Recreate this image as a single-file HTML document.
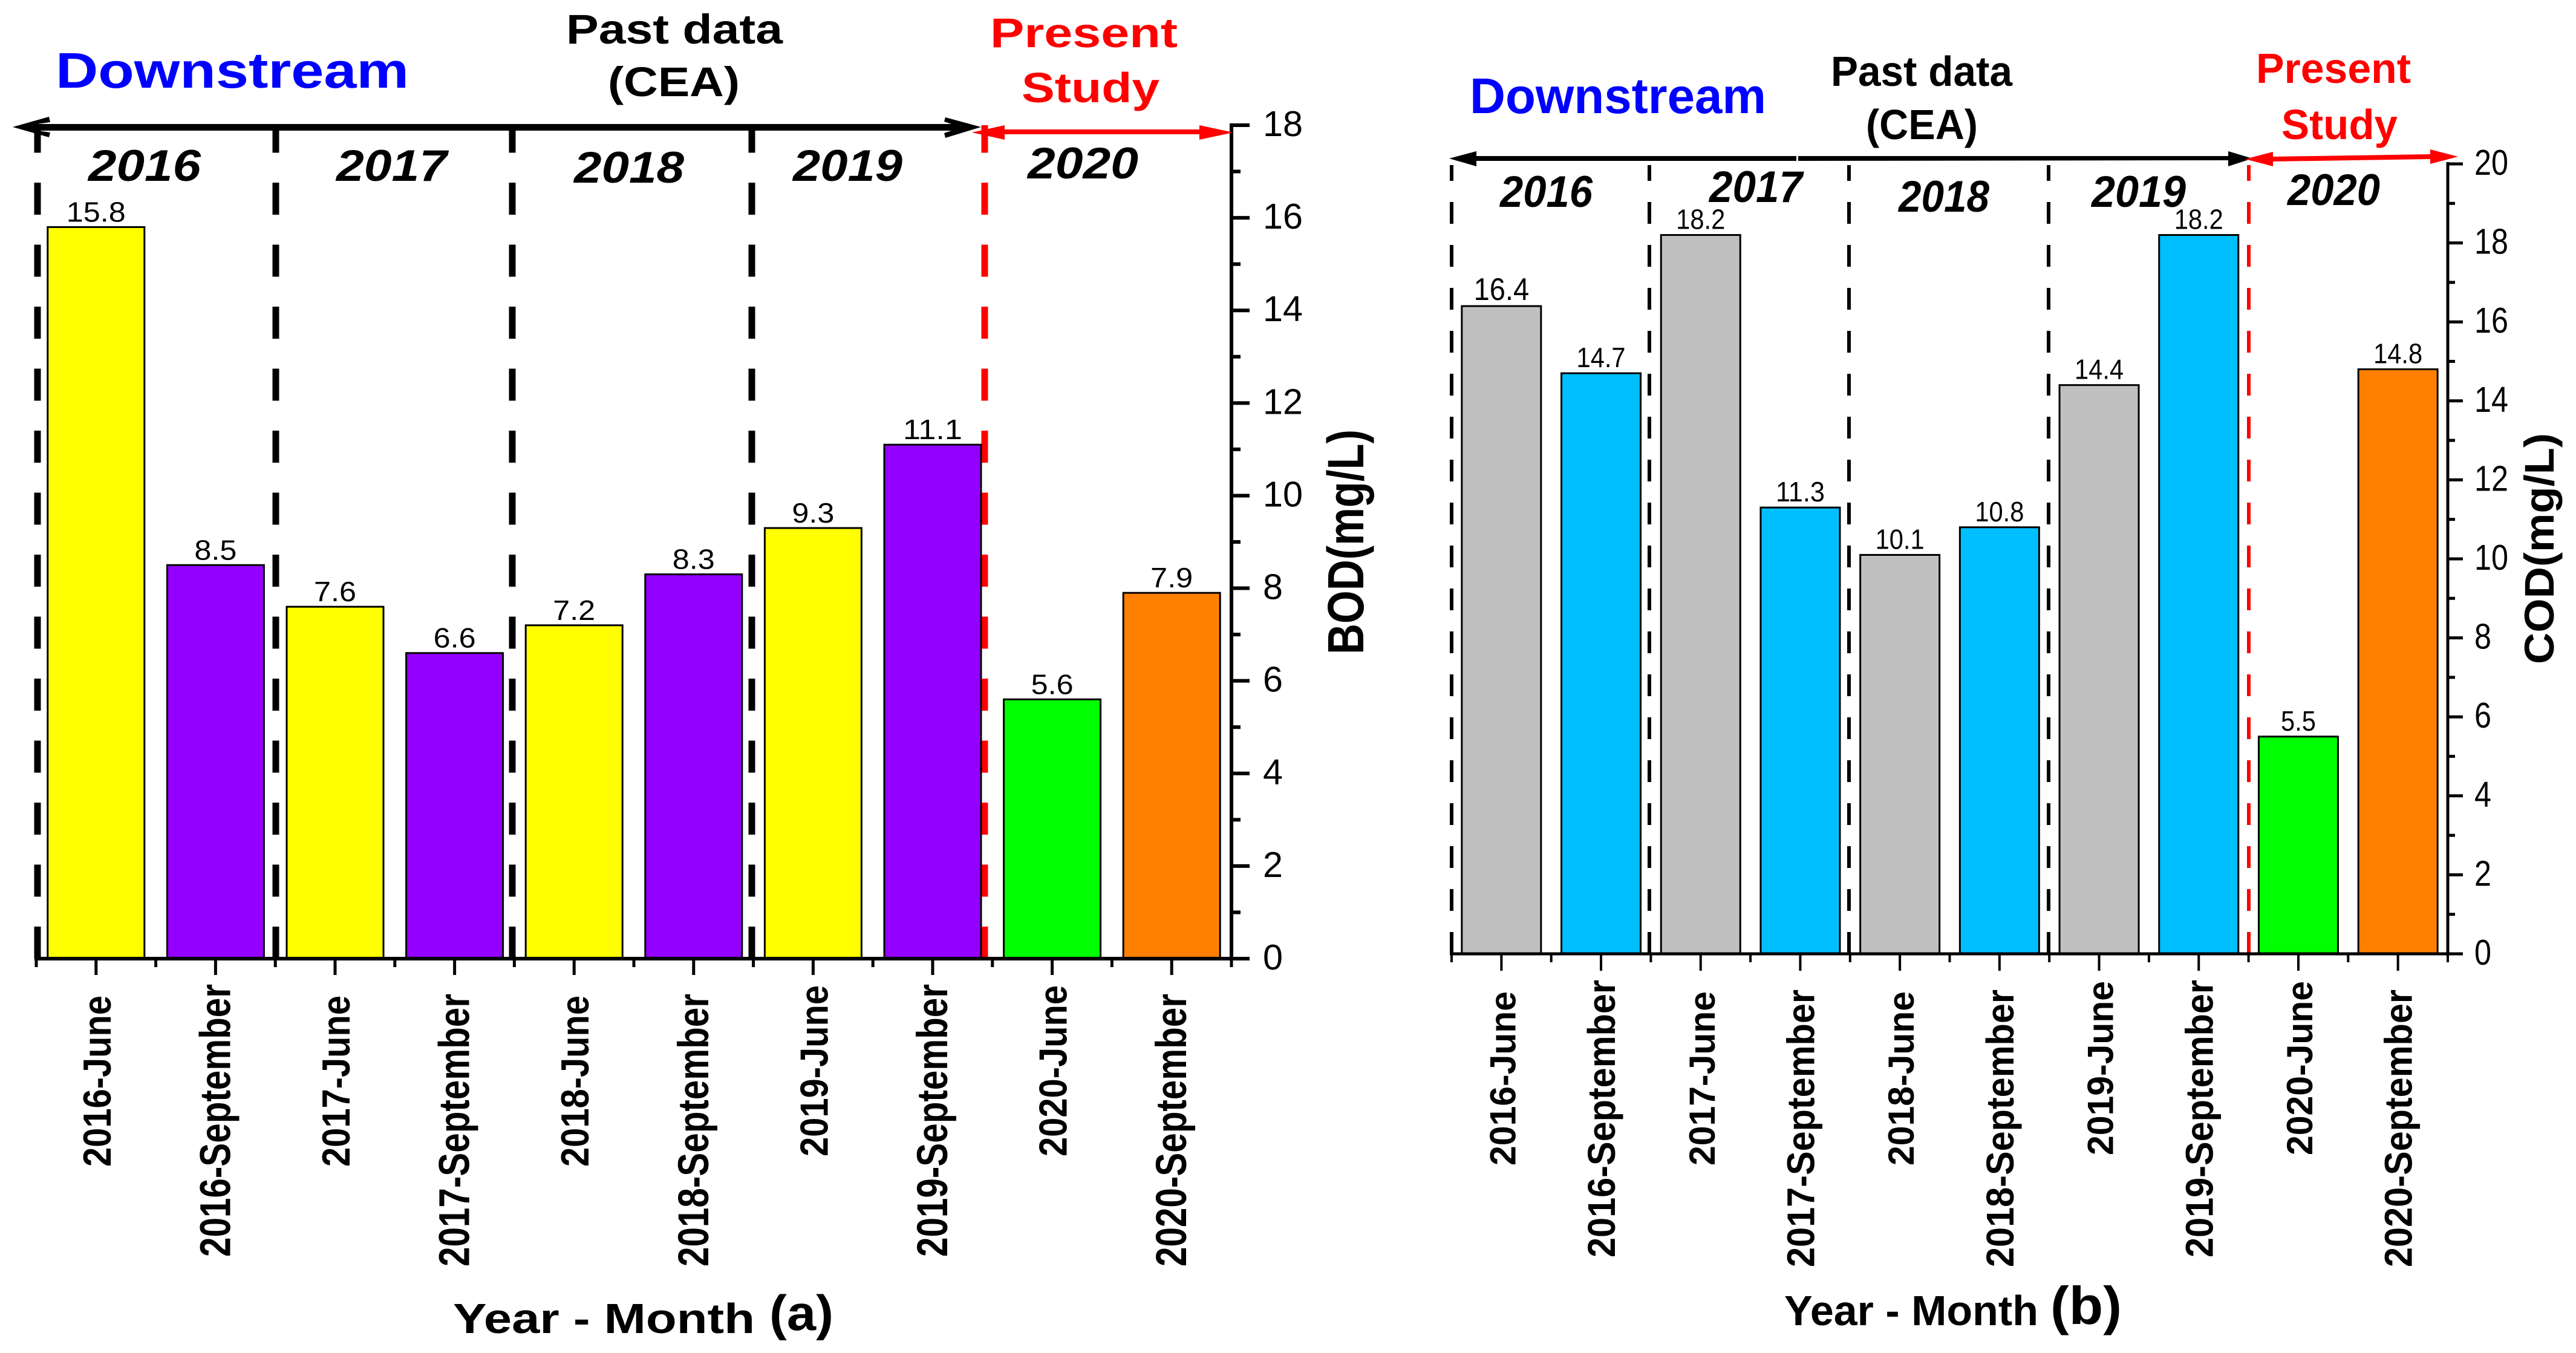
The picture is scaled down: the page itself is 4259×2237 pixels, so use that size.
<!DOCTYPE html>
<html lang="en">
<head>
<meta charset="utf-8">
<title>BOD and COD downstream bar charts</title>
<style>
html,body{margin:0;padding:0;background:#fff;}
svg{display:block;font-family:"Liberation Sans",sans-serif;}
.b{font-weight:700;}
.bi{font-weight:700;font-style:italic;}
</style>
</head>
<body>
<svg id="figure" xmlns="http://www.w3.org/2000/svg" width="4259" height="2237" viewBox="0 0 4259 2237">
  <rect x="0" y="0" width="4259" height="2237" fill="#fff"/>
  <g id="panelA"></g>
  <g id="panelB"></g>

  <g>
    <text class="b" x="92" y="145" font-size="83" fill="#0000ff" textLength="584" lengthAdjust="spacingAndGlyphs">Downstream</text>
    <text class="b" x="936" y="72" font-size="69" textLength="358" lengthAdjust="spacingAndGlyphs">Past data</text>
    <text class="b" x="1005" y="159" font-size="69" textLength="218" lengthAdjust="spacingAndGlyphs">(CEA)</text>
    <text class="b" x="1637" y="78" font-size="69" fill="#ff0000" textLength="310" lengthAdjust="spacingAndGlyphs">Present</text>
    <text class="b" x="1689" y="169" font-size="70" fill="#ff0000" textLength="228" lengthAdjust="spacingAndGlyphs">Study</text>
    <text class="bi" x="146" y="299" font-size="73" textLength="186" lengthAdjust="spacingAndGlyphs">2016</text>
    <text class="bi" x="556" y="299" font-size="73" textLength="183" lengthAdjust="spacingAndGlyphs">2017</text>
    <text class="bi" x="949" y="302" font-size="73" textLength="182" lengthAdjust="spacingAndGlyphs">2018</text>
    <text class="bi" x="1311" y="299" font-size="73" textLength="181" lengthAdjust="spacingAndGlyphs">2019</text>
    <text class="bi" x="1699" y="295" font-size="73" textLength="183" lengthAdjust="spacingAndGlyphs">2020</text>
    <polygon fill="#000" points="21,210 81,193 83,202 62,205 1573,205 1561,201 1563,194 1622,210 1563,228 1561,220 1573,216 62,216 83,219 81,227"/>
    <polygon fill="#ff0000" points="1607,219 1661,207 1661,214 1983,214 1983,207 2039,219 1983,231 1983,222 1661,222 1661,231"/>
    <text class="b" x="749" y="2204" font-size="70" textLength="499" lengthAdjust="spacingAndGlyphs">Year - Month</text>
    <text class="b" x="1272" y="2199" font-size="82" textLength="106" lengthAdjust="spacingAndGlyphs">(a)</text>
    <text class="b" transform="translate(2254,1082) rotate(-90)" font-size="84" textLength="372" lengthAdjust="spacingAndGlyphs">BOD(mg/L)</text>
  </g>

  <g>
    <text class="b" x="2430" y="187" font-size="83" fill="#0000ff" textLength="490" lengthAdjust="spacingAndGlyphs">Downstream</text>
    <text class="b" x="3027" y="142" font-size="70" textLength="300" lengthAdjust="spacingAndGlyphs">Past data</text>
    <text class="b" x="3085" y="230" font-size="70" textLength="185" lengthAdjust="spacingAndGlyphs">(CEA)</text>
    <text class="b" x="3730" y="137" font-size="70" fill="#ff0000" textLength="256" lengthAdjust="spacingAndGlyphs">Present</text>
    <text class="b" x="3772" y="230" font-size="70" fill="#ff0000" textLength="192" lengthAdjust="spacingAndGlyphs">Study</text>
    <text class="bi" x="2480" y="342" font-size="73" textLength="153" lengthAdjust="spacingAndGlyphs">2016</text>
    <text class="bi" x="2826" y="334" font-size="73" textLength="154" lengthAdjust="spacingAndGlyphs">2017</text>
    <text class="bi" x="3139" y="350" font-size="73" textLength="150" lengthAdjust="spacingAndGlyphs">2018</text>
    <text class="bi" x="3458" y="342" font-size="73" textLength="156" lengthAdjust="spacingAndGlyphs">2019</text>
    <text class="bi" x="3782" y="339" font-size="73" textLength="153" lengthAdjust="spacingAndGlyphs">2020</text>
    <polygon fill="#000" points="2396,262 2441,250 2441,258 2970,258 2970,266 2441,266 2441,275"/>
    <polygon fill="#000" points="2973,258 3684,258 3684,250 3724,262 3684,275 3684,265 2973,266"/>
    <polygon fill="#ff0000" points="3712,263 3758,251 3758,259 4018,255 4018,247 4064,259 4018,271 4018,263 3758,267 3758,275"/>
    <text class="b" x="2950" y="2191" font-size="70" textLength="420" lengthAdjust="spacingAndGlyphs">Year - Month</text>
    <text class="b" x="3390" y="2189" font-size="88" textLength="118" lengthAdjust="spacingAndGlyphs">(b)</text>
    <text class="b" transform="translate(4222,1098) rotate(-90)" font-size="69" textLength="382" lengthAdjust="spacingAndGlyphs">COD(mg/L)</text>
  </g>
</svg>
<script>
/* chart data */
const categories = ["2016-June","2016-September","2017-June","2017-September","2018-June","2018-September","2019-June","2019-September","2020-June","2020-September"];
const bodValues = [15.8,8.5,7.6,6.6,7.2,8.3,9.3,11.1,5.6,7.9];
const codValues = [16.4,14.7,18.2,11.3,10.1,10.8,14.4,18.2,5.5,14.8];
const bodPrinted = ["15.8","8.5","7.6","6.6","7.2","8.3","9.3","11.1","5.6","7.9"];
const codPrinted = ["16.4","14.7","18.2","11.3","10.1","10.8","14.4","18.2","5.5","14.8"];
const bodTicks = [0,2,4,6,8,10,12,14,16,18];
const codTicks = [0,2,4,6,8,10,12,14,16,18,20];
const bodColors = ["#ffff00","#9400ff","#ffff00","#9400ff","#ffff00","#9400ff","#ffff00","#9400ff","#00ff00","#ff8000"];
const codColors = ["#c0c0c0","#00bfff","#c0c0c0","#00bfff","#c0c0c0","#00bfff","#c0c0c0","#00bfff","#00ff00","#ff8000"];
/* hand-placed label layout, not data */
const bodLabelTops = [1646,1627,1646,1643,1646,1643,1629,1627,1629,1643];
const codLabelTops = [1639,1620,1639,1636,1639,1636,1622,1620,1622,1636];
const bodLabelFonts = [46,46,46,46,46,46,46,46,46,46];
const codLabelFonts = [52,46,46,46,46,46,46,46,46,46];

const SVG_NS = "http://www.w3.org/2000/svg";
function mk(tag, attrs, parent, txt) {
  const el = document.createElementNS(SVG_NS, tag);
  for (const k in attrs) el.setAttribute(k, attrs[k]);
  if (txt !== undefined) el.textContent = txt;
  parent.appendChild(el);
  return el;
}

function drawPanel(p) {
  const g = document.getElementById(p.id);
  const scaleY = v => p.y0 - (v / p.yMax) * (p.y0 - p.yTop);
  const pitch = (p.xR - p.xL) / p.cats.length;
  const scaleX = i => p.xL + pitch * (i + 0.5);

  p.dividers.forEach(function (dx, i) {
    const red = i === p.dividers.length - 1;
    const el = mk("line", {x1: dx, x2: dx, y1: p.y0, y2: p.dashTop,
      stroke: red ? "#ff0000" : "#000", "stroke-width": p.dashW,
      "stroke-dasharray": p.dash}, g);
    
    
  });

  p.vals.forEach(function (v, i) {
    const cx = scaleX(i);
    const top = scaleY(v);
    const bar = mk("rect", {x: cx - p.barW / 2, y: top, width: p.barW, height: p.y0 - top,
      fill: p.colors[i], stroke: "#000", "stroke-width": 3}, g);
    
    

    const s = p.printed[i];
    const fs = p.valueFonts[i];
    const w = (fs / 46) * p.valueWidth * ((s.length - 1) * 0.556 + 0.278) / 1.946;
    const lab = mk("text", {x: cx, y: top - p.valueGap, "font-size": fs, "text-anchor": "middle",
      textLength: w, lengthAdjust: "spacingAndGlyphs"}, g, s);
    
    
  });

  const yAxis = mk("line", {x1: p.xR, x2: p.xR, y1: p.yTop - 3, y2: p.y0 + 3, stroke: "#000", "stroke-width": p.axisW}, g);
  
  

  const xAxis = mk("line", {x1: p.xL - 3, x2: p.xR + p.yMajor, y1: p.y0, y2: p.y0, stroke: "#000", "stroke-width": p.axisW}, g);
  
  

  p.ticks.forEach(function (t, i) {
    const y = scaleY(t);
    const major = mk("line", {x1: p.xR, x2: p.xR + p.yMajor, y1: y, y2: y, stroke: "#000", "stroke-width": p.axisW}, g);
    
    

    const s = String(t);
    const lab = mk("text", {x: p.tickX, y: y + 18, "font-size": 59,
      textLength: s.length * p.digitW, lengthAdjust: "spacingAndGlyphs"}, g, s);
    
    

    if (i < p.ticks.length - 1) {
      const ym = scaleY((t + p.ticks[i + 1]) / 2);
      const minor = mk("line", {x1: p.xR, x2: p.xR + p.yMinor, y1: ym, y2: ym, stroke: "#000", "stroke-width": p.axisW}, g);
      
      
    }
  });

  p.cats.forEach(function (c, i) {
    const cx = scaleX(i);
    const major = mk("line", {x1: cx, x2: cx, y1: p.y0, y2: p.y0 + p.xMajor, stroke: "#000", "stroke-width": p.xTickW}, g);
    
    

    const ex = p.xL + pitch * i;
    const minor = mk("line", {x1: ex, x2: ex, y1: p.y0, y2: p.y0 + p.xMinor, stroke: "#000", "stroke-width": p.xTickW}, g);
    
    

    const longLabel = c.indexOf("September") > -1;
    const len = longLabel ? p.sepLen : p.juneLen;
    const bottom = p.labelTops[i] + len;
    const lab = mk("text", {transform: "translate(" + (cx + p.labelShift) + "," + bottom + ") rotate(-90)",
      class: "b", "font-size": longLabel ? p.sepFont : p.juneFont,
      textLength: len, lengthAdjust: "spacingAndGlyphs"}, g, c);
    
    
  });

  const last = mk("line", {x1: p.xR, x2: p.xR, y1: p.y0, y2: p.y0 + p.xMinor, stroke: "#000", "stroke-width": p.xTickW}, g);
  
  
}

drawPanel({
  id: "panelA", cats: categories, vals: bodValues, printed: bodPrinted, colors: bodColors, ticks: bodTicks,
  yMax: 18, xL: 60, xR: 2036, y0: 1585, yTop: 207, barW: 160, axisW: 6, yMajor: 30, yMinor: 15,
  xMajor: 27, xMinor: 14, xTickW: 5, tickX: 2088, digitW: 33, valueWidth: 98, valueFonts: bodLabelFonts, valueGap: 9,
  dividers: [62, 456, 847, 1243, 1628], dashTop: 207, dash: "53 49.5", dashW: 11,
  labelTops: bodLabelTops, juneLen: 283, sepLen: 451, juneFont: 65, sepFont: 71, labelShift: 24
});
drawPanel({
  id: "panelB", cats: categories, vals: codValues, printed: codPrinted, colors: codColors, ticks: codTicks,
  yMax: 20, xL: 2400, xR: 4047, y0: 1577, yTop: 271, barW: 131, axisW: 5, yMajor: 25, yMinor: 12,
  xMajor: 28, xMinor: 14, xTickW: 4, tickX: 4091, digitW: 28, valueWidth: 81, valueFonts: codLabelFonts, valueGap: 10,
  dividers: [2400, 2727, 3057, 3387, 3718], dashTop: 273, dash: "36 35", dashW: 6,
  labelTops: codLabelTops, juneLen: 288, sepLen: 459, juneFont: 60, sepFont: 64, labelShift: 23
});
</script>
</body>
</html>
